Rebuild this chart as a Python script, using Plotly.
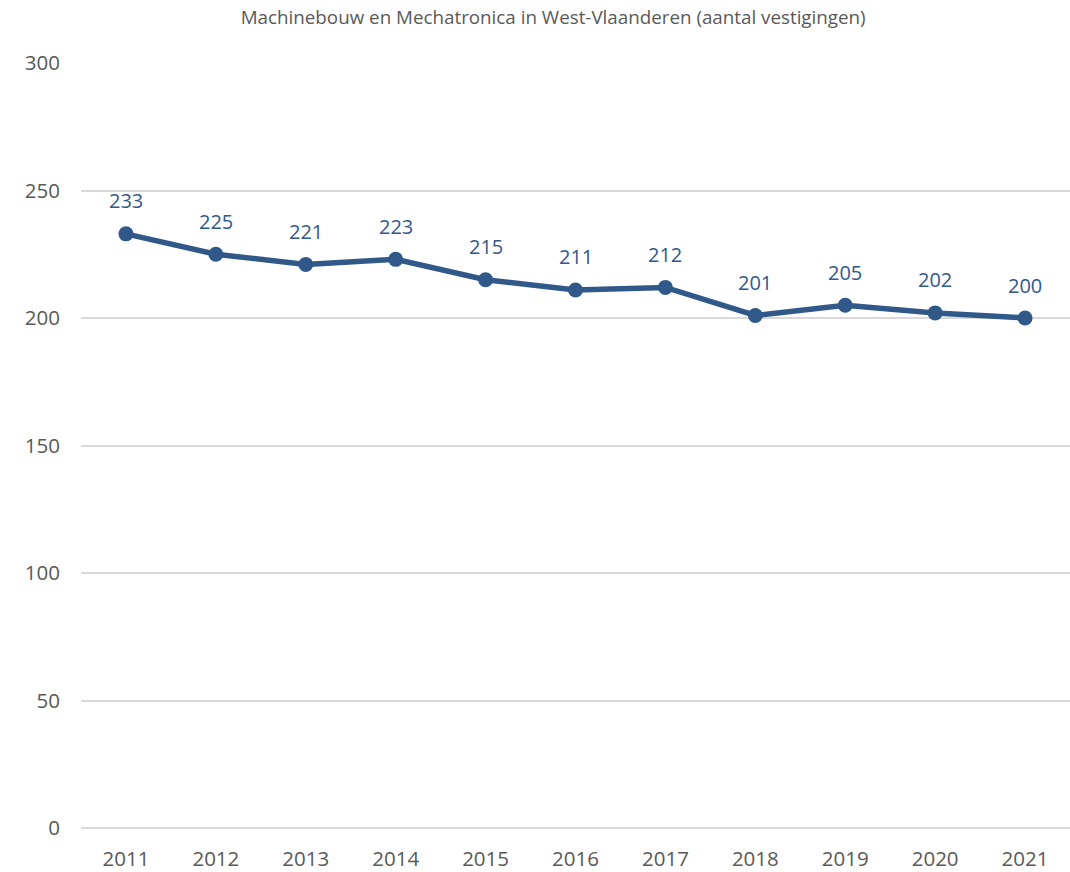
import plotly.graph_objects as go

years = ["2011", "2012", "2013", "2014", "2015", "2016", "2017", "2018", "2019", "2020", "2021"]
values = [233, 225, 221, 223, 215, 211, 212, 201, 205, 202, 200]
title = "Machinebouw en Mechatronica in West-Vlaanderen (aantal vestigingen)"

line_color = "#30598A"
text_grey = "#595959"
font_family = "Open Sans, Liberation Sans, sans-serif"

idx = list(range(len(years)))

fig = go.Figure()
fig.add_trace(go.Scatter(
    x=idx, y=values, mode="lines+markers",
    line=dict(color=line_color, width=5.5),
    marker=dict(color=line_color, size=15),
    hoverinfo="y", showlegend=False,
))

for i, v in zip(idx, values):
    fig.add_annotation(x=i, y=v, xref="x", yref="y", text=str(v), showarrow=False, yshift=33,
                       font=dict(family=font_family, size=20, color=line_color))

fig.update_layout(
    width=1070, height=872,
    margin=dict(l=81, r=0, t=63, b=44),
    paper_bgcolor="white", plot_bgcolor="white",
    title=dict(text=title, x=0.517, xanchor="center", xref="container",
               y=1 - 17 / 872, yanchor="middle", yref="container",
               font=dict(family=font_family, size=18.8, color=text_grey)),
    font=dict(family=font_family, color=text_grey),
    xaxis=dict(range=[-0.5, len(years) - 0.5], tickmode="array", tickvals=idx, ticktext=years,
               showgrid=False, showline=False, zeroline=False,
               ticks="", tickfont=dict(size=20.5, color=text_grey), ticklabelstandoff=16),
    yaxis=dict(range=[0, 300], dtick=50, showgrid=True, gridcolor="#D9D9D9", gridwidth=2,
               zeroline=True, zerolinecolor="#D9D9D9", zerolinewidth=2, showline=False,
               ticks="", tickfont=dict(size=20.5, color=text_grey), ticklabelstandoff=20),
)

fig.write_html("out.html", config={"displayModeBar": False},
               post_script="document.body.style.margin='0';document.body.style.overflow='hidden';")
